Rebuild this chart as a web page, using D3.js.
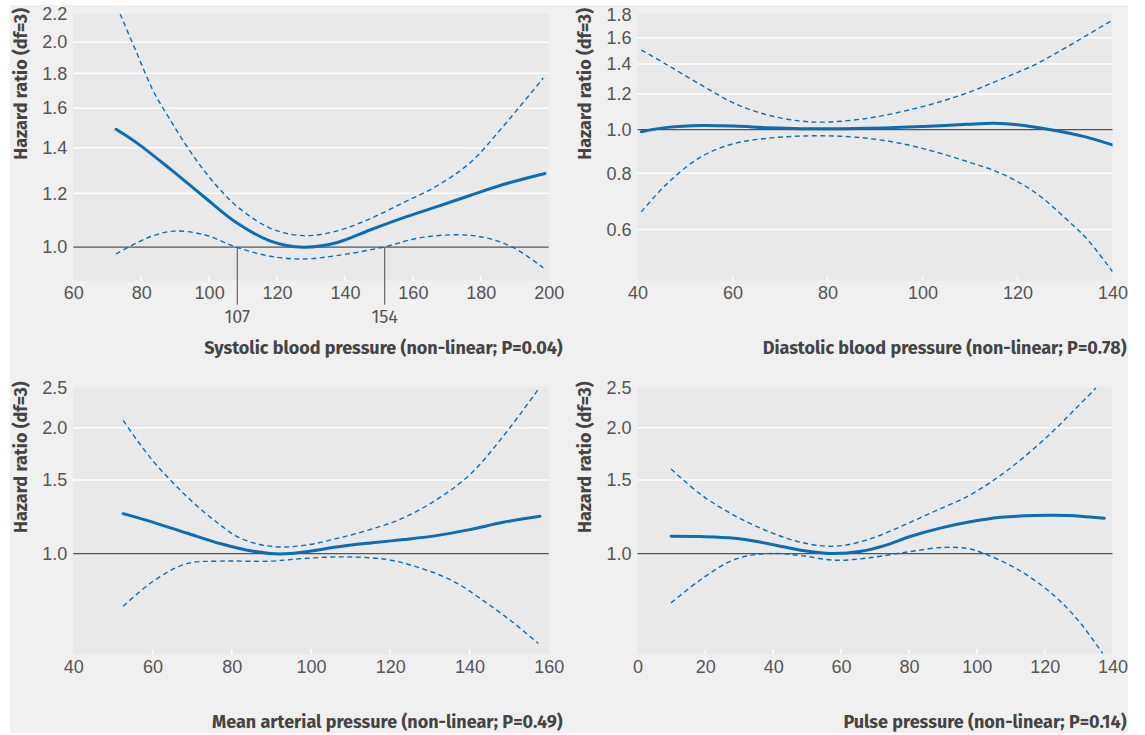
<!DOCTYPE html>
<html>
<head>
<meta charset="utf-8">
<script src="https://cdn.jsdelivr.net/npm/d3@7"></script>
<style>
  body { margin: 0; background: #fff; }
  svg { display: block; font-family: "Fira Sans", "Open Sans", sans-serif; }
</style>
</head>
<body>
<svg id="chart" width="1145" height="735"></svg>
<script>
// ---- data: [exposure value, hazard ratio] ----
const sbpEstimate = [[72.6,1.49],[78.7,1.423],[88.5,1.303],[98.3,1.188],[108.1,1.086],[117.9,1.022],[127.7,1.0],[137.5,1.015],[147.2,1.059],[157.1,1.104],[166.9,1.146],[176.8,1.191],[186.6,1.236],[198.9,1.283]];
const sbpUpper = [[73.8,2.2],[78.7,1.928],[83.6,1.694],[88.5,1.539],[93.4,1.407],[98.3,1.30],[103.2,1.215],[108.1,1.149],[117.9,1.067],[127.7,1.04],[137.5,1.056],[147.2,1.10],[157.1,1.162],[166.9,1.229],[176.8,1.33],[186.6,1.505],[198.4,1.772]];
const sbpLower = [[72.6,0.978],[78.7,1.015],[83.6,1.04],[89.5,1.056],[98.3,1.044],[108.1,1.0],[117.9,0.97],[127.7,0.961],[137.5,0.972],[151.2,1.0],[161.9,1.032],[173.7,1.043],[181.6,1.032],[189.4,1.0],[198.4,0.933]];
const sbpCuts = [{ label: "107", x: 108.3 }, { label: "154", x: 151.7 }];

const dbpEstimate = [[40.8,0.99],[46.3,1.012],[53.4,1.022],[60.4,1.019],[67.4,1.01],[74.4,1.005],[81.4,1.005],[88.4,1.007],[95.5,1.012],[102.5,1.019],[109.5,1.028],[115.1,1.033],[120,1.026],[127,1.0],[134.1,0.965],[140,0.925]];
const dbpUpper = [[40.8,1.503],[46.3,1.392],[53.4,1.257],[60.4,1.144],[67.4,1.078],[74.4,1.045],[80,1.04],[88.4,1.06],[95.5,1.096],[102.5,1.144],[109.5,1.208],[116.5,1.294],[123.5,1.392],[130.5,1.529],[140,1.752]];
const dbpLower = [[40.8,0.657],[46.3,0.76],[53.4,0.871],[60.4,0.932],[67.4,0.957],[74.4,0.968],[81.4,0.968],[88.4,0.957],[95.5,0.932],[102.5,0.894],[109.5,0.849],[116.5,0.80],[123.5,0.728],[130.5,0.63],[134.8,0.569],[140,0.484]];

const mapEstimate = [[52.6,1.246],[60.2,1.188],[68.6,1.12],[77,1.057],[85.4,1.013],[92.1,0.998],[99.7,1.013],[106.4,1.037],[114.9,1.06],[123.3,1.08],[131.7,1.104],[140.1,1.141],[148.5,1.188],[157.8,1.228]];
const mapUpper = [[52.6,2.083],[56,1.873],[60.2,1.662],[64.4,1.503],[68.6,1.371],[72.8,1.262],[77,1.173],[81.2,1.10],[87.1,1.051],[93,1.037],[99.7,1.051],[106.4,1.086],[114.9,1.141],[123.3,1.217],[131.7,1.346],[140.1,1.545],[148.5,1.908],[157.4,2.475]];
const mapLower = [[52.6,0.748],[60.2,0.859],[68.6,0.946],[77,0.959],[89.6,0.959],[98,0.973],[108.1,0.982],[119.1,0.968],[127.5,0.924],[135.9,0.859],[144.3,0.762],[151.1,0.683],[157.4,0.609]];

const ppEstimate = [[9.9,1.10],[18.7,1.098],[28.6,1.088],[36.4,1.064],[43.3,1.037],[50.2,1.013],[58,1.0],[65.9,1.013],[72.8,1.045],[80.6,1.10],[89.5,1.152],[97.3,1.188],[107.1,1.221],[117,1.233],[126.8,1.233],[137.6,1.215]];
const ppUpper = [[9.9,1.594],[18.7,1.384],[28.6,1.233],[38.4,1.131],[48.2,1.064],[58,1.041],[67.9,1.08],[77.7,1.162],[87.5,1.262],[97.3,1.371],[105.2,1.503],[113,1.678],[121.9,1.943],[128.8,2.209],[135.1,2.489]];
const ppLower = [[9.9,0.762],[18.7,0.867],[28.6,0.968],[38.4,1.0],[48.2,0.989],[58,0.964],[67.9,0.976],[79.6,1.009],[90.4,1.035],[97.3,1.028],[102.2,1.0],[112.1,0.916],[121.9,0.805],[129.7,0.695],[137.1,0.577]];

// ---- axis ticks ----
const sbpXTicks = [60, 80, 100, 120, 140, 160, 180, 200];
const sbpYTicks = [1.0, 1.2, 1.4, 1.6, 1.8, 2.0, 2.2];
const dbpXTicks = [40, 60, 80, 100, 120, 140];
const dbpYTicks = [0.6, 0.8, 1.0, 1.2, 1.4, 1.6, 1.8];
const mapXTicks = [40, 60, 80, 100, 120, 140, 160];
const ppXTicks = [0, 20, 40, 60, 80, 100, 120, 140];
const bottomYTicks = [1.0, 1.5, 2.0, 2.5];

const yTitle = "Hazard ratio (df=3)";
const xTitles = [
  "Systolic blood pressure (non-linear; P=0.04)",
  "Diastolic blood pressure (non-linear; P=0.78)",
  "Mean arterial pressure (non-linear; P=0.49)",
  "Pulse pressure (non-linear; P=0.14)"
];

const BLUE = "#0b6db7";
const TEXT = "#555";
const LABEL_SIZE = 18;

const panels = [
  { x0: 73.3, x1: 548.7, y0: 14, y1: 280.7, xDomain: [60, 200], yDomain: [0.893, 2.2],
    xTicks: sbpXTicks, yTicks: sbpYTicks, est: sbpEstimate, hi: sbpUpper, lo: sbpLower, cuts: sbpCuts, title: xTitles[0] },
  { x0: 637.5, x1: 1112.5, y0: 14, y1: 280.7, xDomain: [40, 140], yDomain: [0.462, 1.807],
    xTicks: dbpXTicks, yTicks: dbpYTicks, est: dbpEstimate, hi: dbpUpper, lo: dbpLower, cuts: [], title: xTitles[1] },
  { x0: 73.3, x1: 548.7, y0: 387.3, y1: 654, xDomain: [40, 160], yDomain: [0.575, 2.5],
    xTicks: mapXTicks, yTicks: bottomYTicks, est: mapEstimate, hi: mapUpper, lo: mapLower, cuts: [], title: xTitles[2] },
  { x0: 637.5, x1: 1112.5, y0: 387.3, y1: 654, xDomain: [0, 140], yDomain: [0.575, 2.5],
    xTicks: ppXTicks, yTicks: bottomYTicks, est: ppEstimate, hi: ppUpper, lo: ppLower, cuts: [], title: xTitles[3] }
];

const svg = d3.select("#chart");

svg.append("rect")
  .attr("x", 10).attr("y", 5)
  .attr("width", 1118).attr("height", 728)
  .attr("fill", "#f0f0f0");

panels.forEach((p, i) => {
  const x = d3.scaleLinear().domain(p.xDomain).range([p.x0, p.x1]);
  const y = d3.scaleLog().domain(p.yDomain).range([p.y1, p.y0]);
  const g = svg.append("g");

  g.append("rect")
    .attr("x", p.x0).attr("y", p.y0)
    .attr("width", p.x1 - p.x0).attr("height", p.y1 - p.y0)
    .attr("fill", "#e9e9e9");

  // gridlines (white), skip the reference 1.0 and the top edge
  g.selectAll(".grid")
    .data(p.yTicks.filter(t => t !== 1 && t !== p.yTicks[p.yTicks.length - 1]))
    .join("line")
    .attr("x1", p.x0).attr("x2", p.x1)
    .attr("y1", d => y(d)).attr("y2", d => y(d))
    .attr("stroke", "#fff").attr("stroke-width", 1.5);

  // small white tick marks inside bottom edge
  g.selectAll(".xtick")
    .data(p.xTicks.slice(1, -1))
    .join("line")
    .attr("x1", d => x(d)).attr("x2", d => x(d))
    .attr("y1", p.y1 - 5).attr("y2", p.y1)
    .attr("stroke", "#fff").attr("stroke-width", 1.5);

  // reference line at HR = 1
  g.append("line")
    .attr("x1", p.x0).attr("x2", p.x1)
    .attr("y1", y(1)).attr("y2", y(1))
    .attr("stroke", "#555").attr("stroke-width", 1.2);

  // cut points (systolic panel)
  p.cuts.forEach(c => {
    g.append("line")
      .attr("x1", x(c.x)).attr("x2", x(c.x))
      .attr("y1", y(1)).attr("y2", p.y1 + 24)
      .attr("stroke", "#666").attr("stroke-width", 1.2);
    g.append("text")
      .attr("x", x(c.x)).attr("y", p.y1 + 42)
      .attr("text-anchor", "middle")
      .attr("font-size", LABEL_SIZE).attr("fill", TEXT)
      .text(c.label);
  });

  // axes
  const xAxis = d3.axisBottom(x).tickValues(p.xTicks).tickSize(0).tickPadding(0).tickFormat(d3.format("d"));
  g.append("g")
    .attr("transform", `translate(0,${p.y1 + 18.5})`)
    .call(xAxis)
    .call(a => a.select(".domain").remove())
    .selectAll("text")
    .attr("dy", 0)
    .attr("font-family", null)
    .attr("font-size", LABEL_SIZE)
    .attr("fill", TEXT);

  const yAxis = d3.axisLeft(y).tickValues(p.yTicks).tickSize(0).tickPadding(6).tickFormat(d3.format(".1f"));
  g.append("g")
    .attr("transform", `translate(${p.x0},0)`)
    .call(yAxis)
    .call(a => a.select(".domain").remove())
    .selectAll("text")
    .attr("font-family", null)
    .attr("font-size", LABEL_SIZE)
    .attr("fill", TEXT);

  // clipped curves
  const clipId = `clip${i}`;
  svg.append("clipPath").attr("id", clipId)
    .append("rect")
    .attr("x", p.x0).attr("y", p.y0)
    .attr("width", p.x1 - p.x0).attr("height", p.y1 - p.y0);

  const line = d3.line()
    .x(d => x(d[0]))
    .y(d => y(d[1]))
    .curve(d3.curveCatmullRom.alpha(0.5));

  const curves = g.append("g").attr("clip-path", `url(#${clipId})`);
  [p.hi, p.lo].forEach(band => {
    curves.append("path")
      .attr("d", line(band))
      .attr("fill", "none")
      .attr("stroke", BLUE)
      .attr("stroke-width", 1.4)
      .attr("stroke-dasharray", "5,3.5");
  });
  curves.append("path")
    .attr("d", line(p.est))
    .attr("fill", "none")
    .attr("stroke", BLUE)
    .attr("stroke-width", 3)
    .attr("stroke-linecap", "round");

  // y title
  const ty = p.x0 < 100 ? 26.5 : 590.5;
  g.append("text")
    .attr("transform", `translate(${ty},${p.y0 - 6}) rotate(-90)`)
    .attr("text-anchor", "end")
    .attr("font-size", 18)
    .attr("font-weight", "bold")
    .attr("fill", "#444")
    .text(yTitle);

  // x title
  g.append("text")
    .attr("x", p.x1 + 14).attr("y", p.y1 + 73.5)
    .attr("text-anchor", "end")
    .attr("font-size", 18)
    .attr("font-weight", "bold")
    .attr("fill", "#444")
    .text(p.title);
});
</script>
</body>
</html>
